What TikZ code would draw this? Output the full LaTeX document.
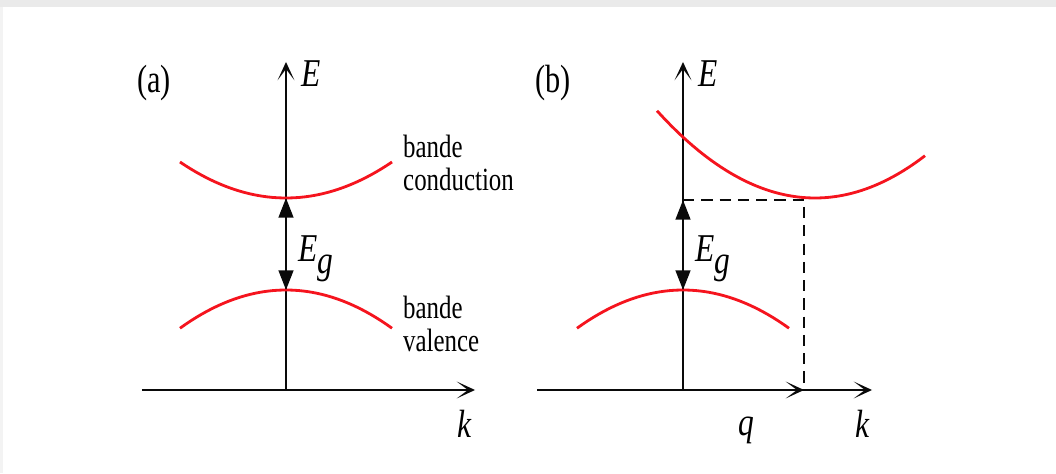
\documentclass[tikz,border=0pt]{standalone}
\usepackage{fontspec}
\setmainfont{Liberation Serif}
\usetikzlibrary{arrows.meta}
\definecolor{bandred}{RGB}{245,20,30}
\definecolor{ink}{RGB}{10,10,10}
\definecolor{framegray}{RGB}{234,234,234}

\tikzset{
  axis/.style={line width=1.9pt,color=ink,-{Stealth[length=13pt,width=12pt,inset=8pt]}},
  band/.style={line width=2pt,color=bandred},
  gaparrow/.style={line width=1.6pt,color=ink,{Triangle[length=14pt,width=10.5pt]}-{Triangle[length=14pt,width=10.5pt]}},
  guide/.style={line width=1.5pt,color=ink,dash pattern=on 8pt off 5pt},
  mathlabel/.style={font=\fontsize{28}{32}\selectfont\itshape,xscale=0.8,inner sep=0pt,anchor=base west},
  panellabel/.style={font=\fontsize{28}{32}\selectfont,xscale=0.77,inner sep=0pt,anchor=base west},
  bandlabel/.style={font=\fontsize{23}{24}\selectfont,xscale=0.77,inner sep=0pt,align=left,anchor=west}
}

\begin{document}
\begin{tikzpicture}[x=0.025cm,y=0.025cm]
  \useasboundingbox (-286,-83) rectangle (770,390);
  \fill[framegray] (-286,383) rectangle (770,390);
  \fill[framegray!60] (-286,-83) rectangle (-283,383);

  % (a) direct gap
  \coordinate (oA) at (0,0);
  \coordinate (topA) at (0,328);
  \coordinate (leftA) at (-144,0);
  \coordinate (rightA) at (189,0);
  \coordinate (cbA) at (0,192);
  \coordinate (vbA) at (0,100);
  \draw[axis] (oA) -- (topA);
  \draw[axis] (leftA) -- (rightA);
  \draw[band] plot[domain=-106:106,samples=40] (\x,{192+(0.0032*\x)*\x});
  \draw[band] plot[domain=-106:106,samples=40] (\x,{100-(0.0034*\x)*\x});
  \draw[gaparrow] (vbA) -- (cbA);
  \node[panellabel] (panelA) at (-149,297) {(a)};
  \node[mathlabel] (energyA) at (15,303) {E};
  \node[mathlabel] (waveA) at (171,-47) {k};
  \node[mathlabel] (gapA) at (12,128) {E\raisebox{-0.3em}{g}};
  \node[bandlabel] (condA) at (117,227) {bande\\conduction};
  \node[bandlabel] (valA) at (117,66) {bande\\valence};

  % (b) indirect gap
  \begin{scope}[shift={(397,0)}]
    \coordinate (oB) at (0,0);
    \coordinate (topB) at (0,328);
    \coordinate (leftB) at (-146,0);
    \coordinate (rightB) at (189,0);
    \coordinate (qB) at (121,0);
    \coordinate (cbB) at (0,190);
    \coordinate (vbB) at (0,100);
    \coordinate (minB) at (121,190);
    \draw[axis] (oB) -- (topB);
    \draw[axis] (leftB) -- (rightB);
    \draw[axis] (oB) -- (qB);
    \draw[guide] (cbB) -- (minB) -- (qB);
    \draw[band] plot[domain=-26:242,samples=60] (\x,{192+(0.0035*(\x-132))*(\x-132)});
    \draw[band] plot[domain=-106:106,samples=40] (\x,{100-(0.0034*\x)*\x});
    \draw[gaparrow] (vbB) -- (cbB);
    \node[panellabel] (panelB) at (-148,297) {(b)};
    \node[mathlabel] (energyB) at (15,303) {E};
    \node[mathlabel] (waveB) at (172,-47) {k};
    \node[mathlabel] (momB) at (55,-45) {q};
    \node[mathlabel] (gapB) at (12,128) {E\raisebox{-0.3em}{g}};
  \end{scope}
\end{tikzpicture}
\end{document}
